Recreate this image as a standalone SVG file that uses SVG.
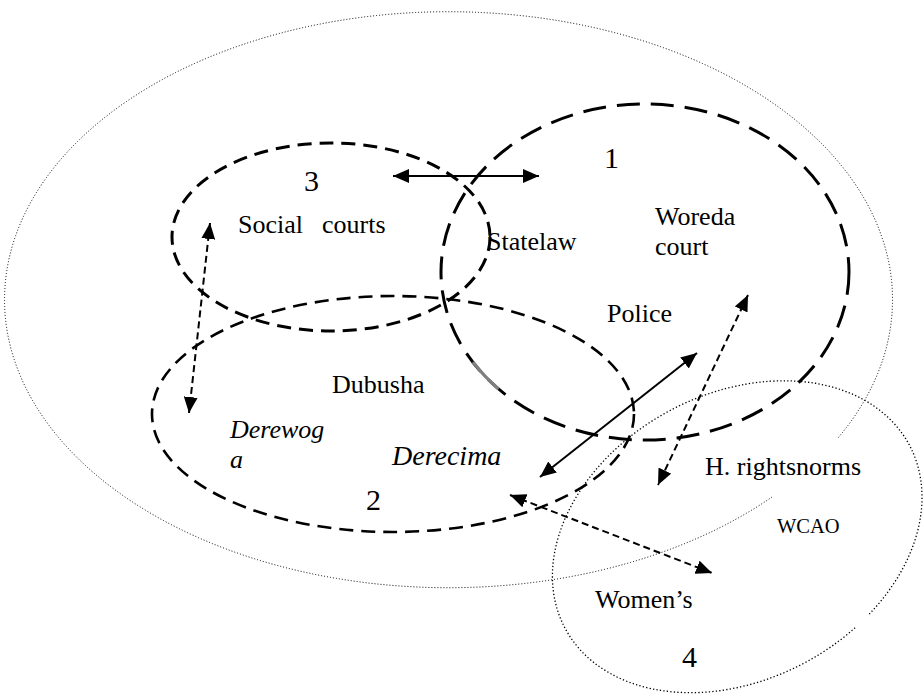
<svg xmlns="http://www.w3.org/2000/svg" width="923" height="696" viewBox="0 0 923 696">
<defs>
<style>
.t{font-family:"Liberation Serif","Times New Roman",serif;fill:#000}
.lab{font-size:26px}
.num{font-size:30px}
.sm{font-size:20.5px}
.it{font-style:italic}
.outer{fill:none;stroke:#000;stroke-width:1;stroke-dasharray:1 2}
.e4{fill:none;stroke:#000;stroke-width:1.3;stroke-dasharray:1.3 2.2}
.e1{fill:none;stroke:#000;stroke-width:3;stroke-dasharray:23 11}
.e3{fill:none;stroke:#000;stroke-width:3;stroke-dasharray:14 8}
.e2{fill:none;stroke:#000;stroke-width:2.6;stroke-dasharray:14 8}
.solid{fill:none;stroke:#000;stroke-width:2;marker-start:url(#ah);marker-end:url(#ah)}
.dash{fill:none;stroke:#000;stroke-width:2;stroke-dasharray:7 4;marker-start:url(#ah);marker-end:url(#ah)}
</style>
<marker id="ah" viewBox="0 0 16 14" refX="16" refY="7" markerWidth="16" markerHeight="14" markerUnits="userSpaceOnUse" orient="auto-start-reverse"><path d="M0,0 L16,7 L0,14 z" fill="#000"/></marker>
</defs>
<rect width="923" height="696" fill="#fff"/>
<g id="outer-region">
<path class="outer" d="M772,497 A444,288 0 1 1 838,438"/>
</g>
<g id="node-1">
<ellipse class="e1" cx="645" cy="272" rx="204" ry="168"/>
<path d="M473,362 A204,168 0 0 0 498.6,389" fill="none" stroke="#808080" stroke-width="3.2"/>
<text class="t num" x="604" y="168">1</text>
<text class="t lab" x="487" y="250">Statelaw</text>
<text class="t lab" x="655" y="225">Woreda</text>
<text class="t lab" x="655" y="255">court</text>
<text class="t lab" x="607" y="322">Police</text>
</g>
<g id="node-3">
<ellipse class="e3" cx="331" cy="237" rx="159" ry="94"/>
<text class="t num" x="304" y="191">3</text>
<text class="t lab" x="238" y="233">Social<tspan x="322">courts</tspan></text>
</g>
<g id="node-2">
<ellipse class="e2" cx="393" cy="414" rx="241" ry="118"/>
<text class="t lab" x="332" y="393">Dubusha</text>
<text class="t lab it" x="230" y="438">Derewog</text>
<text class="t lab it" x="230" y="468">a</text>
<text class="t it" style="font-size:28px" x="392" y="465">Derecima</text>
<text class="t num" x="366" y="510">2</text>
</g>
<g id="node-4">
<path class="e4" d="M855.1,627.8 A195,143 -28 1 1 869.3,614.1"/>
<text class="t lab" x="705" y="475">H. rightsnorms</text>
<text class="t sm" x="777" y="533">WCAO</text>
<text class="t lab" x="595" y="608">Women’s</text>
<text class="t num" x="682" y="667">4</text>
</g>
<g id="connectors">
<line class="solid" x1="393" y1="176" x2="539" y2="176"/>
<line class="dash" x1="210" y1="223" x2="189" y2="413"/>
<line class="solid" x1="697" y1="353" x2="540" y2="477"/>
<line class="dash" x1="748" y1="295" x2="658" y2="485"/>
<line class="dash" x1="510" y1="495" x2="712" y2="573"/>
</g>
</svg>
